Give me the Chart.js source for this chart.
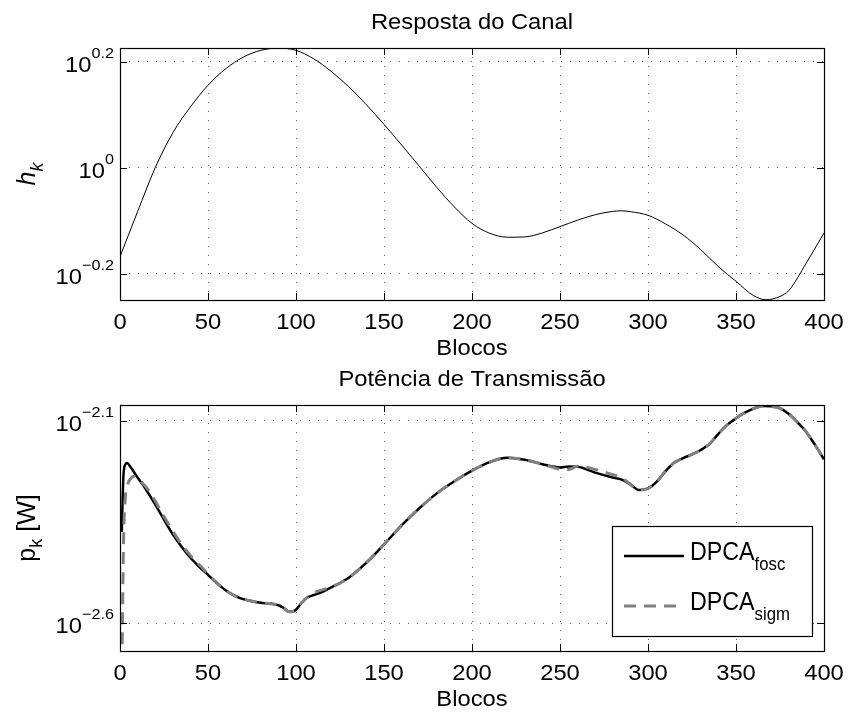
<!DOCTYPE html>
<html><head><meta charset="utf-8">
<script src="https://cdn.jsdelivr.net/npm/chart.js@4/dist/chart.umd.min.js"></script>
<style>
html,body{margin:0;padding:0;background:#fff;}
#wrap{position:relative;width:848px;height:713px;background:#fff;}
canvas{position:absolute;left:0;top:0;}
</style></head><body>
<div id="wrap"><canvas id="c1" width="848" height="713"></canvas><canvas id="c2" width="848" height="713"></canvas></div>
<script>
// ---- data ----
const xTicks = [0, 50, 100, 150, 200, 250, 300, 350, 400];

const blocksH = [0,10,20,30,40,50,60,70,80,90,100,110,120,130,140,150,160,170,180,190,200,210,220,230,240,250,260,270,280,285,290,300,310,320,330,340,350,360,367,375,380,390,400];
const hK = [0.679,0.826,1.000,1.164,1.303,1.432,1.538,1.618,1.667,1.683,1.667,1.607,1.521,1.422,1.315,1.208,1.104,1.007,0.918,0.843,0.785,0.752,0.739,0.740,0.753,0.774,0.796,0.815,0.827,0.829,0.826,0.813,0.783,0.746,0.700,0.650,0.610,0.573,0.563,0.571,0.586,0.661,0.753];
const hTicks = [0.630957, 1, 1.584893];
const hTickExp = ['\u22120.2', '0', '0.2'];

const blocksP = [1,2,3,4,6,8,10,13,16,20,25,30,35,40,45,50,55,60,65,70,75,80,85,90,93,96,98,100,103,106,110,115,120,130,140,150,160,170,180,190,200,210,220,230,240,250,255,260,270,280,285,290,295,300,305,310,315,320,325,330,335,340,345,350,355,360,365,370,375,380,385,390,395,400];
const pFosc = [0.004227,0.005861,0.006194,0.006252,0.006109,0.005929,0.005754,0.005521,0.005272,0.004943,
0.004529,0.004169,0.003882,0.003648,0.003467,0.003311,0.003162,0.003034,0.002944,0.002884,
0.002851,0.002825,0.002812,0.002786,0.002742,0.002684,0.002688,0.002716,0.002818,0.002904,
0.002951,0.003006,0.003083,0.003258,0.003548,0.003936,0.004385,0.004831,0.005260,0.005636,
0.005984,0.006281,0.006442,0.006368,0.006209,0.006095,0.006130,0.006118,0.005916,0.005754,
0.005689,0.005534,0.005358,0.005408,0.005623,0.005970,0.006266,0.006427,0.006561,0.006730,
0.006966,0.007379,0.007762,0.008054,0.008318,0.008511,0.008640,0.008622,0.008531,0.008260,
0.007870,0.007447,0.006918,0.006383];
const pSigm = [0.001778,0.003981,0.005129,0.005470,0.005715,0.005794,0.005728,0.005559,0.005370,0.005035,
0.004613,0.004246,0.003936,0.003698,0.003508,0.003327,0.003162,0.003034,0.002944,0.002884,
0.002851,0.002825,0.002812,0.002786,0.002742,0.002684,0.002688,0.002716,0.002818,0.002904,
0.002985,0.003041,0.003083,0.003258,0.003548,0.003936,0.004385,0.004831,0.005260,0.005636,
0.005984,0.006281,0.006442,0.006368,0.006209,0.006039,0.006026,0.006138,0.006026,0.005848,
0.005754,0.005534,0.005358,0.005408,0.005623,0.005970,0.006266,0.006427,0.006561,0.006730,
0.006966,0.007379,0.007762,0.008054,0.008318,0.008511,0.008640,0.008622,0.008531,0.008260,
0.007870,0.007447,0.006918,0.006383];
const pTicks = [0.00794328, 0.00251189];
const pTickExp = ['\u22122.1', '\u22122.6'];

// ---- drawing helpers ----
const FONT = '"Liberation Sans", Arial, Helvetica, sans-serif';
const SX = 1.08;
function rich(ctx, segs, x, y, align, sx, rot) {
  ctx.save();
  ctx.translate(x, y);
  if (rot) ctx.rotate(rot);
  ctx.scale(sx, 1);
  let w = 0;
  segs.forEach(s => { ctx.font = (s.it ? 'italic ' : '') + s.size + 'px ' + FONT; s.w = ctx.measureText(s.t).width; w += s.w; });
  let cx = align === 'center' ? -w / 2 : (align === 'right' ? -w : 0);
  ctx.fillStyle = '#000'; ctx.textBaseline = 'alphabetic'; ctx.textAlign = 'left';
  segs.forEach(s => { ctx.font = (s.it ? 'italic ' : '') + s.size + 'px ' + FONT; ctx.fillText(s.t, cx, s.dy || 0); cx += s.w; });
  ctx.restore();
}

function decor(opt) {
  return {
    id: 'decor',
    afterDraw(chart) {
      const ctx = chart.ctx, a = chart.chartArea, xs = chart.scales.x, ys = chart.scales.y;
      ctx.save();
      // frame
      ctx.strokeStyle = '#000'; ctx.lineWidth = 1.2;
      ctx.strokeRect(Math.round(a.left) + 0.5, Math.round(a.top) + 0.5, Math.round(a.right - a.left), Math.round(a.bottom - a.top));
      // inner ticks
      ctx.lineWidth = 1;
      ctx.beginPath();
      xTicks.forEach(v => {
        const px = Math.round(xs.getPixelForValue(v)) + 0.5;
        ctx.moveTo(px, a.bottom); ctx.lineTo(px, a.bottom - 7);
        ctx.moveTo(px, a.top); ctx.lineTo(px, a.top + 7);
      });
      opt.yTicks.forEach(v => {
        const py = Math.round(ys.getPixelForValue(v)) + 0.5;
        ctx.moveTo(a.left, py); ctx.lineTo(a.left + 7, py);
        ctx.moveTo(a.right, py); ctx.lineTo(a.right - 7, py);
      });
      ctx.stroke();
      ctx.restore();
      // tick labels
      xTicks.forEach(v => {
        rich(ctx, [{ t: String(v), size: 22 }], xs.getPixelForValue(v), a.bottom + 29, 'center', SX);
      });
      opt.yTicks.forEach((v, i) => {
        const py = ys.getPixelForValue(v);
        rich(ctx, [{ t: '10', size: 22 }, { t: opt.yExp[i], size: 15, dy: -14 }], a.left - 6, py + 10, 'right', SX);
      });
      const cx = (a.left + a.right) / 2, cy = (a.top + a.bottom) / 2;
      rich(ctx, [{ t: opt.title, size: 22 }], cx, a.top - 19, 'center', SX);
      rich(ctx, [{ t: 'Blocos', size: 22 }], cx, a.bottom + 55, 'center', SX);
      rich(ctx, opt.ylabel, 35, cy, 'center', 1, -Math.PI / 2);
      if (opt.legend) {
        const L = a.right - 212, T = a.top + 121, W = 200, H = 110;
        ctx.save();
        ctx.fillStyle = '#fff'; ctx.fillRect(L, T, W, H);
        ctx.strokeStyle = '#000'; ctx.lineWidth = 1.2; ctx.strokeRect(L + 0.5, T + 0.5, W, H);
        ctx.lineWidth = 2.5; ctx.strokeStyle = '#000';
        ctx.beginPath(); ctx.moveTo(L + 12, T + 30); ctx.lineTo(L + 72, T + 30); ctx.stroke();
        ctx.lineWidth = 3; ctx.strokeStyle = '#808080'; ctx.setLineDash([12, 8]);
        ctx.beginPath(); ctx.moveTo(L + 12, T + 80); ctx.lineTo(L + 72, T + 80); ctx.stroke();
        ctx.restore();
        rich(ctx, [{ t: 'DPCA', size: 25 }, { t: 'fosc', size: 18, dy: 10 }], L + 78, T + 34, 'left', 0.93);
        rich(ctx, [{ t: 'DPCA', size: 25 }, { t: 'sigm', size: 18, dy: 10 }], L + 78, T + 84, 'left', 0.93);
      }
    }
  };
}

const GRID = 'rgba(0,0,0,0.6)';
function makeChart(id, datasets, yMin, yMax, yTicks, pad, plug) {
  return new Chart(document.getElementById(id), {
    type: 'line',
    data: { datasets },
    options: {
      responsive: false, animation: false, devicePixelRatio: 1,
      layout: { padding: pad },
      plugins: { legend: { display: false }, tooltip: { enabled: false }, title: { display: false } },
      elements: { point: { radius: 0 }, line: { cubicInterpolationMode: 'monotone' } },
      scales: {
        x: {
          type: 'linear', min: 0, max: 400,
          ticks: { display: false },
          afterBuildTicks: s => { s.ticks = xTicks.map(v => ({ value: v })); },
          grid: { color: GRID, lineWidth: 1, drawTicks: false },
          border: { display: false, dash: [1, 8] }
        },
        y: {
          type: 'logarithmic', min: yMin, max: yMax,
          ticks: { display: false },
          afterBuildTicks: s => { s.ticks = yTicks.map(v => ({ value: v })); },
          grid: { color: GRID, lineWidth: 1, drawTicks: false },
          border: { display: false, dash: [1, 8] }
        }
      }
    },
    plugins: [plug]
  });
}

makeChart('c1', [{
  data: blocksH.map((b, i) => ({ x: b, y: hK[i] })),
  borderColor: '#000', borderWidth: 1
}], 0.5623, 1.684, hTicks, { left: 120, top: 48, right: 24, bottom: 413 },
  decor({ yTicks: hTicks, yExp: hTickExp, title: 'Resposta do Canal',
    ylabel: [{ t: 'h', it: true, size: 25 }, { t: 'k', it: true, size: 18, dy: 8 }] }));

makeChart('c2', [{
  label: 'DPCA_fosc', data: blocksP.map((b, i) => ({ x: b, y: pFosc[i] })),
  borderColor: '#000', borderWidth: 2.5, order: 1
}, {
  label: 'DPCA_sigm', data: blocksP.map((b, i) => ({ x: b, y: pSigm[i] })),
  borderColor: '#808080', borderWidth: 3, borderDash: [12, 8], order: 0
}], 0.002148, 0.008690, pTicks, { left: 120, top: 405, right: 24, bottom: 62 },
  decor({ yTicks: pTicks, yExp: pTickExp, title: 'Pot\u00eancia de Transmiss\u00e3o', legend: true,
    ylabel: [{ t: 'p', size: 25 }, { t: 'k', size: 18, dy: 7 }, { t: ' [W]', size: 25 }] }));
</script>
</body></html>
